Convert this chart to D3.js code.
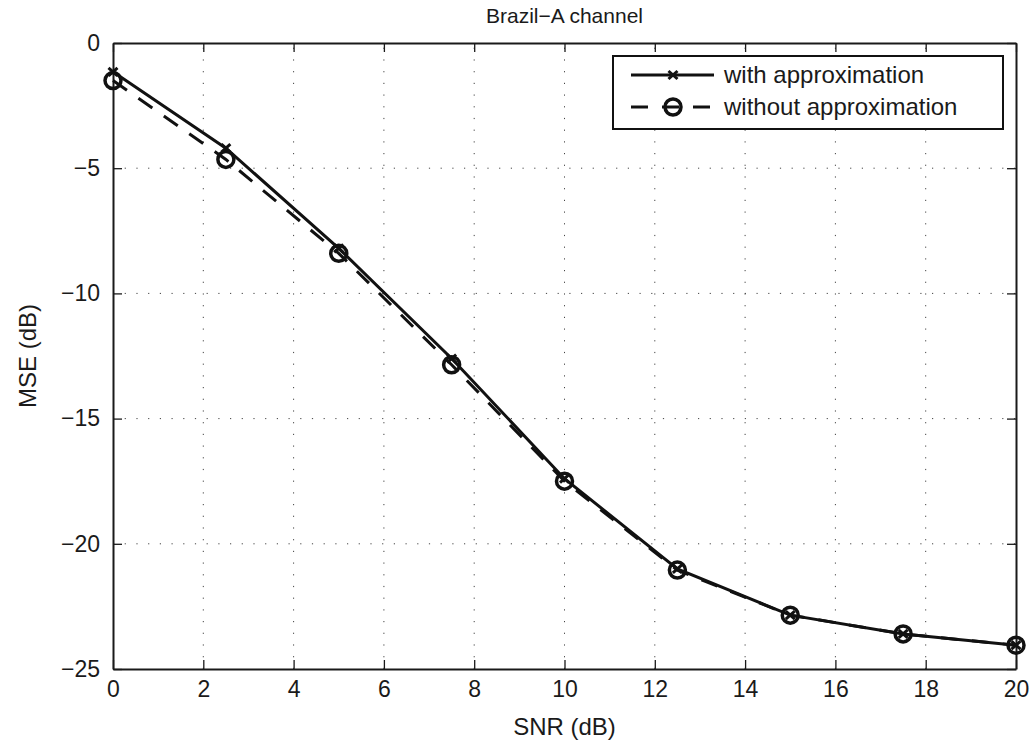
<!DOCTYPE html>
<html>
<head>
<meta charset="utf-8">
<script src="https://cdn.jsdelivr.net/npm/d3@7"></script>
<style>
	body { margin: 0; background: #fff; }
	svg { display: block; font-family: "Liberation Sans", Arial, Helvetica, sans-serif; }
	.axis path, .axis line { stroke: #1a1a1a; }
	.axis text { fill: #1a1a1a; font-size: 23px; }
	.grid line { stroke: #444; stroke-width: 1; stroke-dasharray: 1.2, 10.5; }
</style>
</head>
<body>
<svg id="chart"></svg>
<script>
// SNR values (dB) on the x axis
const snr = [0, 2.5, 5, 7.5, 10, 12.5, 15, 17.5, 20];
// MSE (dB) for each method
const withApprox = [-1.15, -4.2, -8.2, -12.6, -17.4, -21.0, -22.85, -23.6, -24.05];
const withoutApprox = [-1.5, -4.65, -8.4, -12.85, -17.5, -21.05, -22.85, -23.6, -24.05];
const xTicks = [0, 2, 4, 6, 8, 10, 12, 14, 16, 18, 20];
const yTicks = [0, -5, -10, -15, -20, -25];
const seriesNames = ["with approximation", "without approximation"];

document.addEventListener("DOMContentLoaded", function () {
	drawChart();
});

function drawChart() {
	const w = 1034;
	const h = 740;
	const left = 113, right = 1016, top = 43, bottom = 669;

	const svg = d3.select("#chart").attr("width", w).attr("height", h);

	const xScale = d3.scaleLinear().domain([0, 20]).range([left, right]);
	const yScale = d3.scaleLinear().domain([-25, 0]).range([bottom, top]);
	const fmt = (d) => (d < 0 ? "\u2212" + Math.abs(d) : String(d));

	// dotted grid
	const grid = svg.append("g").attr("class", "grid");
	grid.selectAll(".gx")
		.data(xTicks.slice(1, -1))
		.enter()
		.append("line")
		.attr("x1", (d) => xScale(d))
		.attr("x2", (d) => xScale(d))
		.attr("y1", bottom)
		.attr("y2", top);
	grid.selectAll(".gy")
		.data(yTicks.slice(1, -1))
		.enter()
		.append("line")
		.attr("y1", (d) => yScale(d))
		.attr("y2", (d) => yScale(d))
		.attr("x1", left)
		.attr("x2", right);

	// axes, ticks point inward on all four sides
	svg.append("g")
		.attr("class", "axis")
		.attr("transform", "translate(0," + bottom + ")")
		.call(d3.axisBottom(xScale).tickValues(xTicks).tickFormat(fmt).tickSizeInner(-9).tickSizeOuter(0).tickPadding(12));
	svg.append("g")
		.attr("class", "axis")
		.attr("transform", "translate(0," + top + ")")
		.call(d3.axisTop(xScale).tickValues(xTicks).tickFormat("").tickSizeInner(-9).tickSizeOuter(0));
	svg.append("g")
		.attr("class", "axis")
		.attr("transform", "translate(" + left + ",0)")
		.call(d3.axisLeft(yScale).tickValues(yTicks).tickFormat(fmt).tickSizeInner(-9).tickSizeOuter(0).tickPadding(13));
	svg.append("g")
		.attr("class", "axis")
		.attr("transform", "translate(" + right + ",0)")
		.call(d3.axisRight(yScale).tickValues(yTicks).tickFormat("").tickSizeInner(-9).tickSizeOuter(0));
	svg.selectAll(".axis path").attr("stroke-width", 2);
	svg.selectAll(".axis line").attr("stroke-width", 1.3);

	const line = d3.line()
		.x((d) => xScale(d[0]))
		.y((d) => yScale(d[1]));

	const dataWith = snr.map((s, i) => [s, withApprox[i]]);
	const dataWithout = snr.map((s, i) => [s, withoutApprox[i]]);

	// dashed series with circles
	svg.append("path")
		.datum(dataWithout)
		.attr("d", line)
		.attr("fill", "none")
		.attr("stroke", "#111")
		.attr("stroke-width", 3)
		.attr("stroke-dasharray", "17,14");
	svg.selectAll(".circ")
		.data(dataWithout)
		.enter()
		.append("circle")
		.attr("cx", (d) => xScale(d[0]))
		.attr("cy", (d) => yScale(d[1]))
		.attr("r", 8)
		.attr("fill", "none")
		.attr("stroke", "#111")
		.attr("stroke-width", 3.5);

	// solid series with x markers
	svg.append("path")
		.datum(dataWith)
		.attr("d", line)
		.attr("fill", "none")
		.attr("stroke", "#111")
		.attr("stroke-width", 3);
	const cross = "M-4.5,-4L4.5,4M-4.5,4L4.5,-4";
	svg.selectAll(".xm")
		.data(dataWith)
		.enter()
		.append("path")
		.attr("transform", (d) => "translate(" + xScale(d[0]) + "," + yScale(d[1]) + ")")
		.attr("d", cross)
		.attr("stroke", "#111")
		.attr("stroke-width", 3);

	// legend
	const legend = svg.append("g");
	legend.append("rect")
		.attr("x", 613)
		.attr("y", 56)
		.attr("width", 390)
		.attr("height", 73)
		.attr("fill", "#fff")
		.attr("stroke", "#111")
		.attr("stroke-width", 2);
	const rows = [75, 107];
	legend.append("line")
		.attr("x1", 631).attr("x2", 714)
		.attr("y1", rows[0]).attr("y2", rows[0])
		.attr("stroke", "#111").attr("stroke-width", 3);
	legend.append("path")
		.attr("transform", "translate(673," + rows[0] + ")")
		.attr("d", cross)
		.attr("stroke", "#111").attr("stroke-width", 3);
	legend.append("line")
		.attr("x1", 631).attr("x2", 714)
		.attr("y1", rows[1]).attr("y2", rows[1])
		.attr("stroke", "#111").attr("stroke-width", 3)
		.attr("stroke-dasharray", "17,14");
	legend.append("circle")
		.attr("cx", 673).attr("cy", rows[1]).attr("r", 8)
		.attr("fill", "none").attr("stroke", "#111").attr("stroke-width", 3.5);
	legend.selectAll(".lt")
		.data(seriesNames)
		.enter()
		.append("text")
		.attr("x", 724)
		.attr("y", (d, i) => rows[i])
		.attr("dy", "0.35em")
		.attr("font-size", "24px")
		.attr("fill", "#1a1a1a")
		.text((d) => d);

	// title and axis labels
	svg.append("text")
		.attr("x", (left + right) / 2)
		.attr("y", 23)
		.attr("text-anchor", "middle")
		.attr("font-size", "21px")
		.attr("fill", "#1a1a1a")
		.text("Brazil\u2212A channel");
	svg.append("text")
		.attr("x", (left + right) / 2)
		.attr("y", 735)
		.attr("text-anchor", "middle")
		.attr("font-size", "24px")
		.attr("fill", "#1a1a1a")
		.text("SNR (dB)");
	svg.append("text")
		.attr("transform", "translate(36," + (top + bottom) / 2 + ") rotate(-90)")
		.attr("text-anchor", "middle")
		.attr("font-size", "24px")
		.attr("fill", "#1a1a1a")
		.text("MSE (dB)");
}
</script>
</body>
</html>
